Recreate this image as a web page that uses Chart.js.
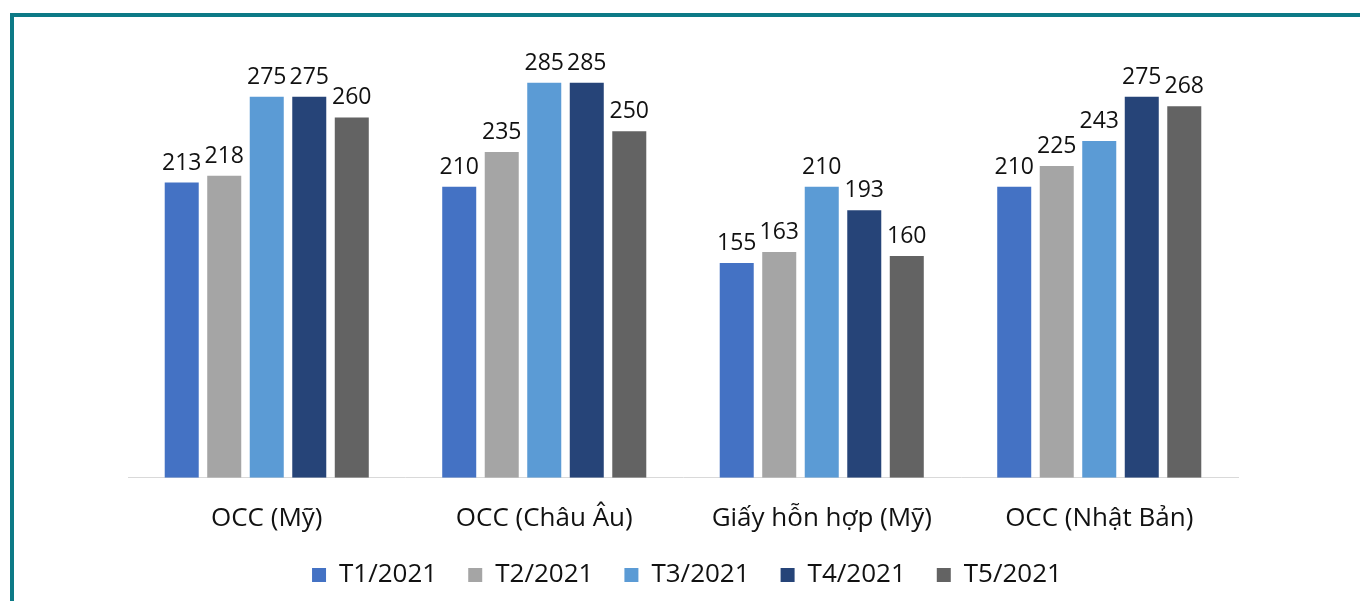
<!DOCTYPE html>
<html>
<head>
<meta charset="utf-8">
<script src="https://cdn.jsdelivr.net/npm/chart.js@4.4.1/dist/chart.umd.min.js"></script>
<style>
  html, body { margin: 0; padding: 0; background: #fff; overflow: hidden; }
  #frame {
    position: absolute; left: 10px; top: 13px;
    width: 1400px; height: 700px;
    border: 4px solid #0d7a86;
  }
  #wrap { position: absolute; left: 0; top: 0; width: 1360px; height: 601px; }
</style>
</head>
<body>
<div id="frame"></div>
<div id="wrap"><canvas id="chart" width="1360" height="601"></canvas></div>
<script>
// categories and series
const categories = ["OCC (Mỹ)", "OCC (Châu Âu)", "Giấy hỗn hợp (Mỹ)", "OCC (Nhật Bản)"];
const t1 = [213, 210, 155, 210];
const t2 = [218, 235, 163, 225];
const t3 = [275, 285, 210, 243];
const t4 = [275, 285, 193, 275];
const t5 = [260, 250, 160, 268];
const seriesNames = ["T1/2021", "T2/2021", "T3/2021", "T4/2021", "T5/2021"];
const colors = ["#4472c4", "#a5a5a5", "#5b9bd5", "#264478", "#636363"];

const FONT = "'Open Sans', 'DejaVu Sans', sans-serif";

// draws the value above every bar
const valueLabels = {
  id: "valueLabels",
  afterDatasetsDraw(chart) {
    const ctx = chart.ctx;
    ctx.save();
    ctx.font = "23px " + FONT;
    ctx.fillStyle = "#111";
    ctx.textAlign = "center";
    ctx.textBaseline = "bottom";
    chart.data.datasets.forEach((ds, i) => {
      chart.getDatasetMeta(i).data.forEach((bar, j) => {
        ctx.fillText(ds.data[j], bar.x, bar.y - 8);
      });
    });
    ctx.restore();
  }
};

// the legend sits closer to the axis labels than its padding allows
const legendNudge = {
  id: "legendNudge",
  afterLayout(chart) {
    chart.legend.top -= 28;
    chart.legend.bottom -= 28;
    chart.legend.left += 4;
    chart.legend.right += 4;
  }
};

const seriesData = [t1, t2, t3, t4, t5];

new Chart(document.getElementById("chart"), {
  type: "bar",
  data: {
    labels: categories,
    datasets: seriesData.map((d, i) => ({
      label: seriesNames[i],
      data: d,
      backgroundColor: colors[i],
      borderWidth: 0,
      categoryPercentage: 0.766,
      barPercentage: 0.8,
    })),
  },
  options: {
    responsive: false,
    animation: false,
    layout: { padding: { left: 128, right: 122, top: 62, bottom: -25 } },
    scales: {
      x: {
        grid: { display: false, drawTicks: false },
        border: { display: true, color: "#d9d9d9", width: 1 },
        ticks: { color: "#111", font: { family: FONT, size: 26 }, padding: 25 },
      },
      y: {
        display: false,
        min: 0,
        max: 300,
      },
    },
    plugins: {
      legend: {
        position: "bottom",
        labels: {
          color: "#111",
          font: { family: FONT, size: 26 },
          boxWidth: 14,
          boxHeight: 14,
          padding: 31,
        },
      },
      tooltip: { enabled: false },
    },
  },
  plugins: [valueLabels, legendNudge],
});
</script>
</body>
</html>
